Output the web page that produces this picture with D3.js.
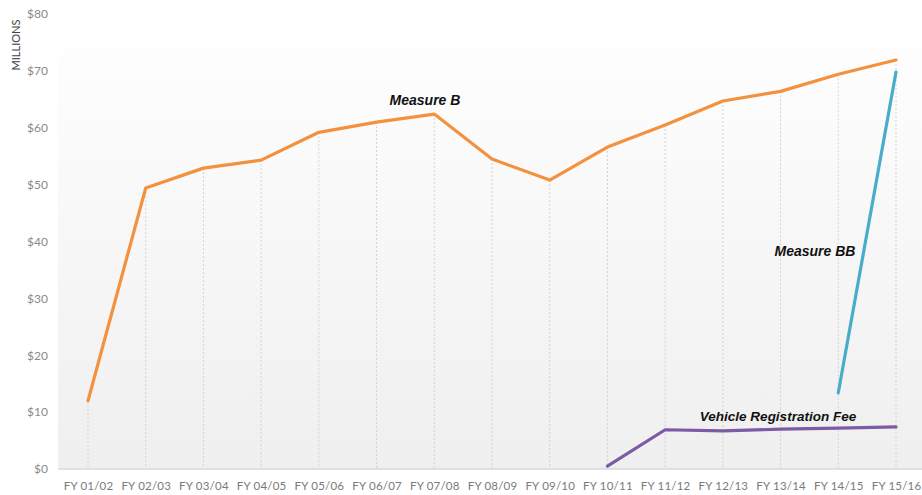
<!DOCTYPE html>
<html>
<head>
<meta charset="utf-8">
<script src="https://cdn.jsdelivr.net/npm/d3@7"></script>
<style>
  body { margin: 0; background: #fff; }
  svg { display: block; }
</style>
</head>
<body>
<div id="vis"></div>
<script>
// data
var years = ["FY 01/02", "FY 02/03", "FY 03/04", "FY 04/05", "FY 05/06", "FY 06/07", "FY 07/08",
  "FY 08/09", "FY 09/10", "FY 10/11", "FY 11/12", "FY 12/13", "FY 13/14", "FY 14/15", "FY 15/16"];
var measureB = [12.0, 49.4, 52.9, 54.3, 59.2, 61.0, 62.4, 54.5, 50.8, 56.6, 60.5, 64.7, 66.4, 69.4, 71.9];
var measureBB = [null, null, null, null, null, null, null, null, null, null, null, null, null, 13.4, 69.8];
var vrf = [null, null, null, null, null, null, null, null, null, 0.5, 6.9, 6.7, 7.0, 7.2, 7.4];
var yTicks = [0, 10, 20, 30, 40, 50, 60, 70, 80];

var width = 922, height = 495;
var plotLeft = 58, plotRight = 922, plotTop = 14, plotBottom = 469;

var svg = d3.select("#vis").append("svg").attr("width", width).attr("height", height);

var x = d3.scalePoint().domain(years).range([88, 896]);
var y = d3.scaleLinear().domain([0, 80]).range([plotBottom, plotTop]);

// background gradient
var grad = svg.append("defs").append("linearGradient")
    .attr("id", "bg").attr("x1", 0).attr("y1", 0).attr("x2", 0).attr("y2", 1);
grad.append("stop").attr("offset", "0%").attr("stop-color", "#ffffff");
grad.append("stop").attr("offset", "100%").attr("stop-color", "#efefef");

svg.append("rect")
    .attr("x", plotLeft).attr("y", plotTop)
    .attr("width", plotRight - plotLeft).attr("height", plotBottom - plotTop)
    .style("fill", "url(#bg)");

// drop lines down from Measure B
svg.selectAll(".drop").data(years).enter().append("line")
    .attr("class", "drop")
    .attr("x1", function(d) { return x(d); })
    .attr("x2", function(d) { return x(d); })
    .attr("y1", function(d, i) { return y(measureB[i]); })
    .attr("y2", plotBottom)
    .style("stroke", "#d2d2d2")
    .style("stroke-width", 1)
    .style("stroke-dasharray", "2,2");

// baseline
svg.append("line")
    .attr("x1", plotLeft).attr("x2", plotRight)
    .attr("y1", plotBottom).attr("y2", plotBottom)
    .style("stroke", "#d9d9d9").style("stroke-width", 1.5);

// y axis
var yAxis = svg.append("g")
    .attr("transform", "translate(" + plotLeft + ",0)")
    .call(d3.axisLeft(y).tickValues(yTicks).tickSize(0).tickPadding(10)
      .tickFormat(function(d) { return "$" + d; }));
yAxis.select(".domain").remove();
yAxis.selectAll("text")
    .style("font-family", "Lato, sans-serif")
    .style("font-size", "12px")
    .style("fill", "#8a8a8a");

// x axis
var xAxis = svg.append("g")
    .attr("transform", "translate(0," + plotBottom + ")")
    .call(d3.axisBottom(x).tickSize(0).tickPadding(13));
xAxis.select(".domain").remove();
xAxis.selectAll("text")
    .style("font-family", "Lato, sans-serif")
    .style("font-size", "11.5px")
    .style("letter-spacing", "0.2px")
    .style("fill", "#7a7a7a");

svg.append("text")
    .attr("transform", "translate(20,45) rotate(-90)")
    .attr("text-anchor", "middle")
    .style("font-family", "Lato, sans-serif")
    .style("font-size", "11px")
    .style("fill", "#444")
    .text("MILLIONS");

// lines
var line = d3.line()
    .defined(function(d) { return d !== null; })
    .x(function(d, i) { return x(years[i]); })
    .y(function(d) { return y(d); });

var series = [
  { values: measureB, color: "#f4913e" },
  { values: measureBB, color: "#47adc8" },
  { values: vrf, color: "#7d5ba4" }
];
series.forEach(function(s) {
  svg.append("path")
      .datum(s.values)
      .attr("d", line)
      .style("fill", "none")
      .style("stroke", s.color)
      .style("stroke-width", 3.2)
      .style("stroke-linecap", "round")
      .style("stroke-linejoin", "round");
});

// labels
var labels = [
  { text: "Measure B", x: 425, y: 105, size: 14 },
  { text: "Measure BB", x: 815, y: 256, size: 14 },
  { text: "Vehicle Registration Fee", x: 778, y: 421, size: 13.5 }
];
labels.forEach(function(l) {
  svg.append("text")
      .attr("x", l.x).attr("y", l.y)
      .attr("text-anchor", "middle")
      .style("font-family", "Liberation Sans, Arial, sans-serif")
      .style("font-weight", "bold")
      .style("font-style", "italic")
      .style("font-size", l.size + "px")
      .style("fill", "#111")
      .text(l.text);
});
</script>
</body>
</html>
